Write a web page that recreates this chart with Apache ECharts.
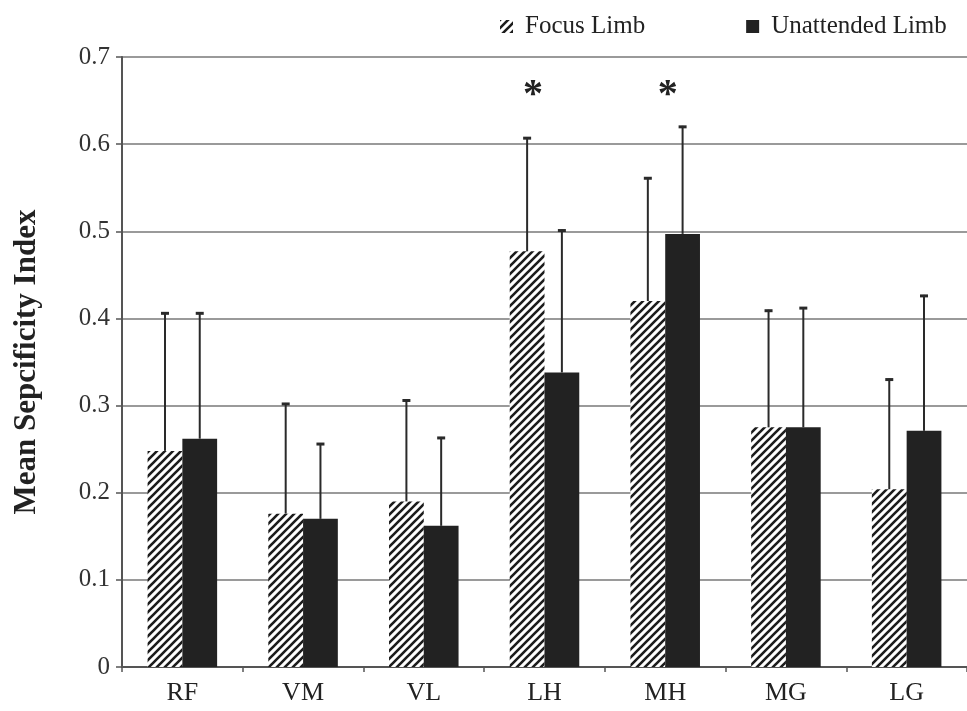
<!DOCTYPE html>
<html>
<head>
<meta charset="utf-8">
<script src="https://cdn.jsdelivr.net/npm/echarts@6/dist/echarts.min.js"></script>
<style>html,body{margin:0;padding:0;background:#fff}#c{width:967px;height:711px}</style>
</head>
<body>
<div id="c"></div>
<script>
const categories = ['RF', 'VM', 'VL', 'LH', 'MH', 'MG', 'LG'];
const focusMean = [0.248, 0.176, 0.190, 0.477, 0.420, 0.275, 0.204];
const focusErr = [0.159, 0.127, 0.117, 0.131, 0.142, 0.135, 0.127];
const unattMean = [0.262, 0.170, 0.162, 0.338, 0.497, 0.275, 0.271];
const unattErr = [0.145, 0.087, 0.102, 0.164, 0.124, 0.138, 0.156];
const significant = ['LH', 'MH'];
const seriesNames = ['Focus Limb', 'Unattended Limb'];
const yTicks = [0, 0.1, 0.2, 0.3, 0.4, 0.5, 0.6, 0.7];

const FONT = '"Liberation Serif", "Times New Roman", serif';
const GAP = 0.424;

function hatch() {
  const c = document.createElement('canvas');
  c.width = 8; c.height = 8;
  const g = c.getContext('2d');
  g.fillStyle = '#ffffff';
  g.fillRect(0, 0, 8, 8);
  g.strokeStyle = '#1c1c1c';
  g.lineWidth = 2.6;
  g.beginPath();
  g.moveTo(-1, 9); g.lineTo(9, -1);
  g.moveTo(-3, 3); g.lineTo(3, -3);
  g.moveTo(5, 11); g.lineTo(11, 5);
  g.stroke();
  return c;
}
const hatchPattern = { image: hatch(), repeat: 'repeat' };

function errSeries(name, means, errs, side) {
  return {
    type: 'custom',
    name: name,
    z: 5,
    silent: true,
    data: means.map((m, i) => [i, m, errs[i]]),
    encode: { x: 0, y: 1 },
    renderItem: function (params, api) {
      const i = api.value(0), m = api.value(1), e = api.value(2);
      const band = api.size([1, 0])[0];
      const bw = band * (1 - GAP) / 2;
      const p0 = api.coord([i, m]);
      const p1 = api.coord([i, m + e]);
      const x = p0[0] + side * bw / 2;
      return {
        type: 'group',
        children: [
          { type: 'line', shape: { x1: x, y1: p0[1], x2: x, y2: p1[1] },
            style: { stroke: '#2a2a2a', lineWidth: 2 } },
          { type: 'line', shape: { x1: x - 4, y1: p1[1] + 1, x2: x + 4, y2: p1[1] + 1 },
            style: { stroke: '#2a2a2a', lineWidth: 3 } }
        ]
      };
    }
  };
}

const chart = echarts.init(document.getElementById('c'));
chart.setOption({
  animation: false,
  backgroundColor: '#ffffff',
  textStyle: { fontFamily: FONT },
  grid: { left: 122, right: -5, top: 57, bottom: 44, containLabel: false },
  legend: {
    data: seriesNames,
    left: 495, top: 9,
    itemWidth: 13, itemHeight: 13, itemGap: 101,
    icon: 'rect',
    textStyle: { fontFamily: FONT, fontSize: 25, color: '#222', padding: [0, 0, 0, 7] }
  },
  xAxis: {
    type: 'category',
    data: categories,
    axisLine: { lineStyle: { color: '#555', width: 2 } },
    axisTick: { show: true, length: 5, alignWithLabel: false, lineStyle: { color: '#555', width: 1.5 } },
    axisLabel: { fontFamily: FONT, fontSize: 26, color: '#222', margin: 13 }
  },
  yAxis: {
    type: 'value',
    min: 0, max: 0.7, interval: 0.1,
    name: 'Mean Sepcificity Index',
    nameLocation: 'middle',
    nameGap: 80,
    nameTextStyle: { fontFamily: FONT, fontSize: 31, fontWeight: 'bold', color: '#222' },
    axisLine: { show: true, lineStyle: { color: '#555', width: 2 } },
    axisTick: { show: true, length: 6, lineStyle: { color: '#555', width: 1.5 } },
    axisLabel: {
      fontFamily: FONT, fontSize: 25, color: '#333', margin: 12,
      formatter: v => { const t = yTicks.find(x => Math.abs(x - v) < 1e-9); return t === 0 ? '0' : String(t); }
    },
    splitLine: { show: true, lineStyle: { color: '#9a9a9a', width: 2 } }
  },
  series: [
    {
      type: 'bar', name: seriesNames[0], data: focusMean,
      barGap: '0%', barCategoryGap: (GAP * 100) + '%',
      itemStyle: { color: hatchPattern },
      markPoint: {
        symbol: 'circle', symbolSize: 0,
        label: { show: true, formatter: '*', fontFamily: FONT, fontSize: 40, fontWeight: 'bold', color: '#222', position: 'inside', offset: [0, 8] },
        data: [
          { coord: [significant[0], 0.664], label: { offset: [6, 7] } },
          { coord: [significant[1], 0.664], label: { offset: [20, 7] } }
        ]
      }
    },
    {
      type: 'bar', name: seriesNames[1], data: unattMean,
      barGap: '0%', barCategoryGap: (GAP * 100) + '%',
      itemStyle: { color: '#222222' }
    },
    errSeries('errF', focusMean, focusErr, -1),
    errSeries('errU', unattMean, unattErr, 1)
  ]
});
</script>
</body>
</html>
